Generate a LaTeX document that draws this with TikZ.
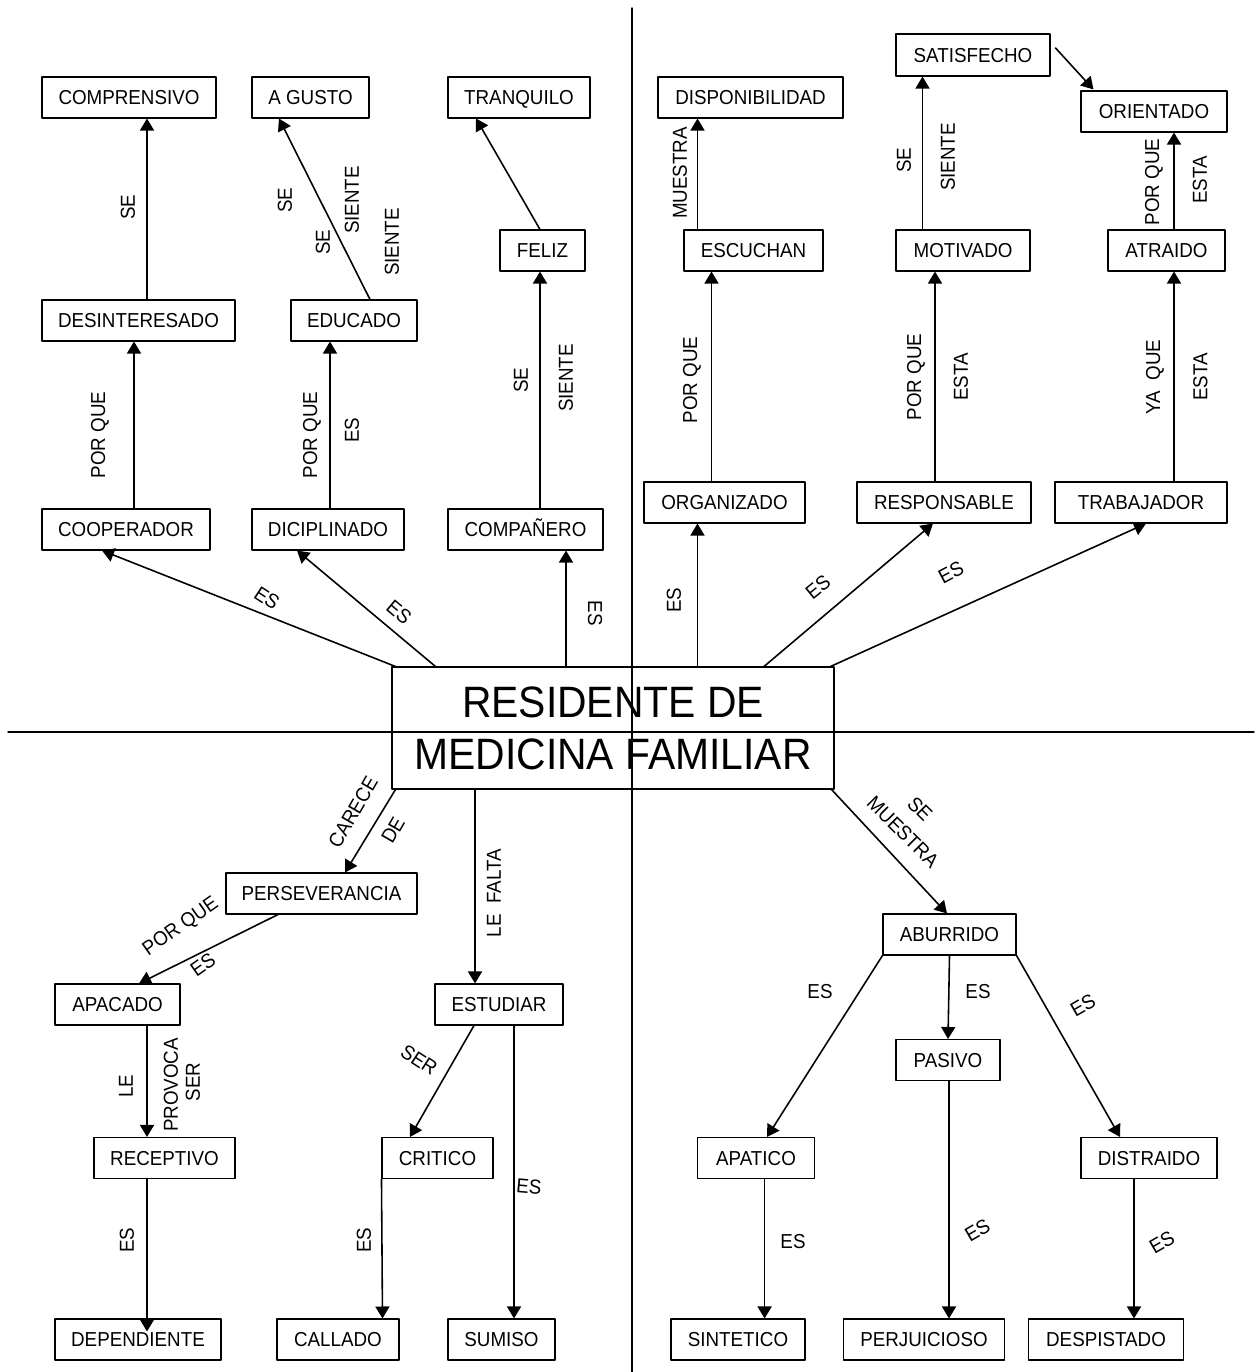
\documentclass[tikz,border=0pt]{standalone}
\usepackage{fontspec}
\setmainfont[FakeStretch=0.93]{Liberation Sans}
\usetikzlibrary{arrows.meta,calc}

\begin{document}
\begin{tikzpicture}[x=0.02cm,y=-0.02cm,line cap=round,line join=round,
  caja/.style={draw,line width=0.6pt,inner sep=0pt,minimum height=0.82cm,
    minimum width=#1*0.02cm,text height=8.2pt,text depth=0pt,
    font=\fontsize{11.5}{13}\selectfont},
  flecha/.style={line width=0.9pt,-{Triangle[length=0.24cm,width=0.28cm]}},
  etq/.style={inner sep=0pt,font=\fontsize{11.5}{13}\selectfont}]

\useasboundingbox (0,0) rectangle (1254,1372);

% cuadrantes
\draw[line width=0.8pt] (632,8) -- (632,1372);
\draw[line width=0.8pt] (8,732) -- (1254,732);

% nodo central
\node[draw,line width=0.6pt,inner sep=0pt,minimum width=442*0.02cm,
  minimum height=122*0.02cm,align=center,
  font=\fontsize{25}{29.6}\selectfont] (centro) at (613,728)
  {RESIDENTE DE\\MEDICINA FAMILIAR};

% arriba izquierda
\node[caja=174] (compren) at (129,97.5) {COMPRENSIVO};
\node[caja=117] (agusto) at (310.5,97.5) {A GUSTO};
\node[caja=142] (tranq) at (519,97.5) {TRANQUILO};
\node[caja=193] (desint) at (138.5,320.5) {DESINTERESADO};
\node[caja=126] (educado) at (354,320.5) {EDUCADO};
\node[caja=85] (feliz) at (542.5,250.5) {FELIZ};
\node[caja=168] (coop) at (126,529.5) {COOPERADOR};
\node[caja=152] (dicip) at (328,529.5) {DICIPLINADO};
\node[caja=155] (compa) at (525.5,529.5) {COMPAÑERO};

% arriba derecha
\node[caja=154,minimum height=42*0.02cm] (satis) at (973,55) {SATISFECHO};
\node[caja=185] (dispon) at (750.5,97.5) {DISPONIBILIDAD};
\node[caja=146] (orient) at (1154,111.5) {ORIENTADO};
\node[caja=139] (escuch) at (753.5,250.5) {ESCUCHAN};
\node[caja=134] (motiv) at (963,250.5) {MOTIVADO};
\node[caja=117] (atraido) at (1166.5,250.5) {ATRAIDO};
\node[caja=161] (organ) at (724.5,502.5) {ORGANIZADO};
\node[caja=174] (respons) at (944,502.5) {RESPONSABLE};
\node[caja=172] (trabaj) at (1141,502.5) {TRABAJADOR};

% abajo izquierda
\node[caja=191] (persev) at (321.5,893.5) {PERSEVERANCIA};
\node[caja=125] (apacado) at (117.5,1004.5) {APACADO};
\node[caja=128] (estud) at (499,1004.5) {ESTUDIAR};
\node[caja=141] (recep) at (164.5,1158) {RECEPTIVO};
\node[caja=111] (critico) at (437.5,1158) {CRITICO};
\node[caja=166] (depend) at (138,1339.5) {DEPENDIENTE};
\node[caja=122] (callado) at (338,1339.5) {CALLADO};
\node[caja=107] (sumiso) at (501.5,1339.5) {SUMISO};

% abajo derecha
\node[caja=133] (aburr) at (949.5,934.5) {ABURRIDO};
\node[caja=104] (pasivo) at (948,1060) {PASIVO};
\node[caja=117] (apatico) at (756,1158) {APATICO};
\node[caja=136] (distr) at (1149,1158) {DISTRAIDO};
\node[caja=134] (sintet) at (738,1339.5) {SINTETICO};
\node[caja=161] (perju) at (924,1339.5) {PERJUICIOSO};
\node[caja=155] (despis) at (1106,1339.5) {DESPISTADO};

% flechas arriba izquierda
\draw[flecha] ($(desint.north)+(8.5,0)$) -- ($(compren.south)+(18,0)$);
\draw[flecha] ($(educado.north)+(16,0)$) -- ($(agusto.south)+(-31.5,0)$);
\draw[flecha] ($(feliz.north)+(-2.5,0)$) -- ($(tranq.south)+(-43,0)$);
\draw[flecha] ($(coop.north)+(8,0)$) -- ($(desint.south)+(-4.5,0)$);
\draw[flecha] ($(dicip.north)+(2,0)$) -- ($(educado.south)+(-24,0)$);
\draw[flecha] ($(compa.north)+(14.5,0)$) -- ($(feliz.south)+(-2.5,0)$);
\draw[flecha] ($(centro.north west)+(4,0)$) -- ($(coop.south)+(-24,0)$);
\draw[flecha] ($(centro.north west)+(44,0)$) -- ($(dicip.south)+(-31,0)$);
\draw[flecha] ($(centro.north)+(-47,0)$) -- ($(compa.south)+(40.5,0)$);

% flechas arriba derecha
\draw[flecha] ($(escuch.north)+(-56,0)$) -- ($(dispon.south)+(-53,0)$);
\draw[flecha] ($(motiv.north)+(-40.5,0)$) -- ($(satis.south)+(-50.5,0)$);
\draw[flecha] ($(satis.east)+(5,-7)$) -- ($(orient.north west)+(13,-1)$);
\draw[flecha] ($(atraido.north)+(7.5,0)$) -- ($(orient.south)+(20,0)$);
\draw[flecha] ($(organ.north)+(-13,0)$) -- ($(escuch.south)+(-42,0)$);
\draw[flecha] ($(respons.north)+(-9,0)$) -- ($(motiv.south)+(-28,0)$);
\draw[flecha] ($(trabaj.north)+(33,0)$) -- ($(atraido.south)+(7.5,0)$);
\draw[flecha] ($(centro.north)+(84.5,0)$) -- ($(organ.south)+(-27,0)$);
\draw[flecha] ($(centro.north)+(151,0)$) -- ($(respons.south)+(-11,0)$);
\draw[flecha] ($(centro.north east)+(-4,0)$) -- ($(trabaj.south)+(5,0)$);

% flechas abajo izquierda
\draw[flecha] ($(centro.south west)+(4,0)$) -- ($(persev.north)+(23.5,0)$);
\draw[flecha] ($(persev.south)+(-43.5,0)$) -- ($(apacado.north)+(21.5,0)$);
\draw[flecha] ($(centro.south)+(-138,0)$) -- ($(estud.north)+(-24,0)$);
\draw[flecha] ($(apacado.south)+(29.5,0)$) -- ($(recep.north)+(-17.5,0)$);
\draw[flecha] ($(recep.south)+(-17.5,0)$) -- ($(depend.north)+(9,13)$);
\draw[flecha] ($(estud.south)+(-25,0)$) -- ($(critico.north)+(-27.5,0)$);
\draw[flecha] (critico.south west) -- ($(callado.north)+(44.5,0)$);
\draw[flecha] ($(estud.south)+(15,0)$) -- ($(sumiso.north)+(12.5,0)$);

% flechas abajo derecha
\draw[flecha] ($(centro.south east)+(-3,0)$) -- ($(aburr.north)+(-2.5,0)$);
\draw[flecha] (aburr.south west) -- ($(apatico.north)+(11,0)$);
\draw[flecha] (aburr.south) -- (pasivo.north);
\draw[flecha] (aburr.south east) -- ($(distr.north)+(-29,0)$);
\draw[flecha] ($(apatico.south)+(8.6,0)$) -- ($(sintet.north)+(26.6,0)$);
\draw[flecha] ($(pasivo.south)+(1,0)$) -- ($(perju.north)+(25,0)$);
\draw[flecha] ($(distr.south)+(-15,0)$) -- ($(despis.north)+(28,0)$);

% etiquetas
\node[etq,rotate=90] (e1) at (128,207) {SE};
\node[etq,rotate=90] (e2) at (285,200) {SE};
\node[etq,rotate=90] (e3) at (323,242) {SE};
\node[etq,rotate=90] (e4) at (352,200) {SIENTE};
\node[etq,rotate=90] (e5) at (392,242) {SIENTE};
\node[etq,rotate=90] (e6) at (100,435) {POR QUE};
\node[etq,rotate=90] (e7) at (312,435) {POR QUE};
\node[etq,rotate=90] (e8) at (352,430) {ES};
\node[etq,rotate=90] (e9) at (521,380) {SE};
\node[etq,rotate=90] (e10) at (566,378) {SIENTE};
\node[etq,rotate=-33] (e11) at (267,598) {ES};
\node[etq,rotate=-40] (e12) at (399,612) {ES};
\node[etq,rotate=-90] (e13) at (595,613) {ES};

\node[etq,rotate=90] (e14) at (680,173) {MUESTRA};
\node[etq,rotate=90] (e15) at (904,160) {SE};
\node[etq,rotate=90] (e16) at (948,157) {SIENTE};
\node[etq,rotate=90] (e17) at (1154,182) {POR QUE};
\node[etq,rotate=90] (e18) at (1200,180) {ESTA};
\node[etq,rotate=90] (e19) at (692,380) {POR QUE};
\node[etq,rotate=90] (e20) at (916,377) {POR QUE};
\node[etq,rotate=90] (e21) at (961,377) {ESTA};
\node[etq,rotate=90] (e22) at (1155,377) {YA\ \ QUE};
\node[etq,rotate=90] (e23) at (1200.5,377) {ESTA};
\node[etq,rotate=90] (e24) at (674,600) {ES};
\node[etq,rotate=39] (e25) at (818,587) {ES};
\node[etq,rotate=28] (e26) at (951,572) {ES};

\node[etq,rotate=60] (e27) at (353,812) {CARECE};
\node[etq,rotate=60] (e28) at (393,830) {DE};
\node[etq,rotate=35] (e29) at (181,927) {POR QUE};
\node[etq,rotate=35] (e30) at (203,965) {ES};
\node[etq,rotate=90] (e31) at (494,893) {LE\ \ FALTA};
\node[etq,rotate=90] (e32) at (126,1086) {LE};
\node[etq,rotate=90] (e33) at (171,1085) {PROVOCA};
\node[etq,rotate=90] (e34) at (193,1082) {SER};
\node[etq,rotate=90] (e35) at (127,1240) {ES};
\node[etq,rotate=-33] (e36) at (419,1060) {SER};
\node[etq,rotate=90] (e37) at (364,1240) {ES};
\node[etq,rotate=-5] (e38) at (529,1187) {ES};

\node[etq,rotate=-45] (e39) at (920,809) {SE};
\node[etq,rotate=-45] (e40) at (903,832) {MUESTRA};
\node[etq] (e41) at (820,992) {ES};
\node[etq] (e42) at (978,992) {ES};
\node[etq,rotate=30] (e43) at (1083,1005) {ES};
\node[etq] (e44) at (793,1242) {ES};
\node[etq,rotate=30] (e45) at (977.5,1230) {ES};
\node[etq,rotate=30] (e46) at (1162,1242) {ES};
\end{tikzpicture}
\end{document}
